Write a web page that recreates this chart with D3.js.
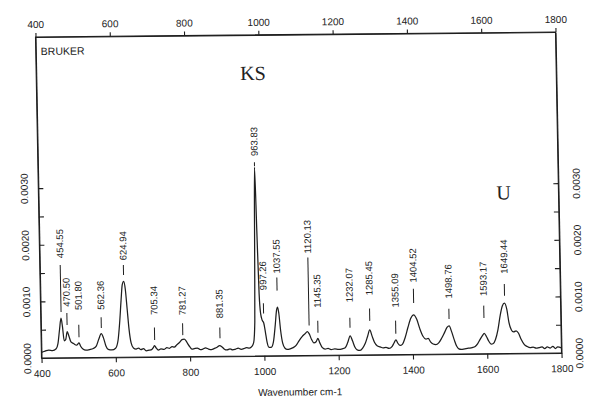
<!DOCTYPE html>
<html>
<head>
<meta charset="utf-8">
<script src="https://cdn.jsdelivr.net/npm/d3@7"></script>
<style>
  html, body { margin: 0; padding: 0; background: #fff; }
  svg { display: block; }
  text { font-family: "Liberation Sans", Arial, sans-serif; fill: #222; }
</style>
</head>
<body>
<svg id="chart" width="589" height="402"></svg>
<script>
// ---------- data ----------
const wavenumber = [400,410,420,430,440,445,450,454.5,458,462,466,470.5,475,480,487,495,501.8,506,512,520,530,540,548,555,562,568,574,580,590,600,607,612,617,621,625,629,633,637,642,648,655,662,668,675,682,690,697,702,705,709,715,722,730,738,745,752,758,765,772,779,785,790,795,800,806,812,820,828,835,842,850,858,866,873,880,886,892,900,908,915,922,930,938,945,952,960,967,972,976,979,983,986,989,992,996,1000,1004,1008,1013,1019,1025,1031,1035,1038,1041,1045,1050,1056,1062,1070,1078,1086,1094,1102,1110,1117,1122,1128,1134,1140,1145,1150,1156,1164,1172,1180,1190,1200,1210,1218,1225,1232,1238,1244,1250,1258,1265,1272,1279,1285,1291,1297,1304,1312,1320,1328,1336,1344,1350,1355,1360,1366,1372,1380,1388,1396,1404,1412,1420,1428,1436,1442,1448,1455,1462,1470,1478,1486,1493,1499,1505,1512,1518,1524,1530,1540,1550,1560,1568,1575,1582,1588,1593,1599,1605,1611,1617,1623,1630,1637,1643,1649,1655,1660,1666,1672,1679,1685,1692,1700,1708,1716,1724,1732,1740,1748,1755,1762,1770,1777,1784,1790,1800];
const absorbance = [0.00010,0.00012,0.00014,0.00013,0.00016,0.00025,0.00050,0.00070,0.00055,0.00030,0.00032,0.00046,0.00038,0.00028,0.00025,0.00022,0.00026,0.00020,0.00015,0.00013,0.00014,0.00016,0.00020,0.00032,0.00042,0.00034,0.00020,0.00014,0.00013,0.00016,0.00030,0.00060,0.00100,0.00128,0.00134,0.00120,0.00085,0.00050,0.00025,0.00016,0.00014,0.00016,0.00013,0.00015,0.00011,0.00012,0.00013,0.00017,0.00020,0.00016,0.00012,0.00014,0.00013,0.00016,0.00015,0.00018,0.00017,0.00021,0.00025,0.00030,0.00031,0.00028,0.00022,0.00017,0.00013,0.00014,0.00015,0.00012,0.00013,0.00015,0.00013,0.00012,0.00014,0.00016,0.00019,0.00017,0.00013,0.00011,0.00013,0.00011,0.00012,0.00014,0.00012,0.00013,0.00015,0.00014,0.00017,0.00024,0.00060,0.00180,0.00333,0.00220,0.00110,0.00075,0.00063,0.00058,0.00042,0.00024,0.00015,0.00015,0.00024,0.00055,0.00080,0.00086,0.00075,0.00045,0.00022,0.00013,0.00011,0.00012,0.00014,0.00018,0.00026,0.00033,0.00038,0.00042,0.00038,0.00028,0.00022,0.00024,0.00030,0.00022,0.00014,0.00011,0.00012,0.00010,0.00011,0.00010,0.00011,0.00013,0.00022,0.00034,0.00025,0.00014,0.00009,0.00008,0.00012,0.00020,0.00033,0.00044,0.00033,0.00022,0.00016,0.00014,0.00012,0.00013,0.00011,0.00014,0.00021,0.00026,0.00020,0.00016,0.00018,0.00030,0.00048,0.00064,0.00070,0.00062,0.00045,0.00032,0.00027,0.00028,0.00022,0.00018,0.00017,0.00020,0.00028,0.00038,0.00047,0.00050,0.00040,0.00025,0.00014,0.00009,0.00008,0.00009,0.00010,0.00011,0.00013,0.00018,0.00026,0.00032,0.00036,0.00030,0.00022,0.00017,0.00018,0.00025,0.00042,0.00068,0.00084,0.00089,0.00078,0.00055,0.00042,0.00038,0.00040,0.00036,0.00025,0.00016,0.00012,0.00010,0.00011,0.00009,0.00010,0.00011,0.00008,0.00011,0.00009,0.00012,0.00008,0.00011,0.00009];

const peakLabels = ["454.55","470.50","501.80","562.36","624.94","705.34","781.27","881.35","963.83","997.26","1037.55","1120.13","1145.35","1232.07","1285.45","1355.09","1404.52","1498.76","1593.17","1649.44"];
// where each label sits along the x axis
const labelPosition = [455,470.5,502,562.5,625,705.5,781.5,881.5,983,1000,1037.5,1122,1145.5,1232,1285.5,1355,1404.5,1499,1593,1649.5];
const labelLevel = [0.00176,0.00090,0.00084,0.00084,0.00171,0.00074,0.00073,0.00067,0.00353,0.00116,0.00145,0.00180,0.00084,0.00093,0.00105,0.00083,0.00127,0.00098,0.00102,0.00141];
const tickTop    = [0.00164,0.00079,0.00058,0.00071,0.00163,0.00052,0.00059,0.00051,0.00342,0.00093,0.00138,0.00173,0.00061,0.00066,0.00082,0.00060,0.00116,0.00080,0.00085,0.00123];
const tickBottom = [0.00081,0.00058,0.00036,0.00052,0.00145,0.00030,0.00038,0.00032,0.00335,0.00075,0.00115,0.00053,0.00040,0.00048,0.00060,0.00037,0.00091,0.00062,0.00063,0.00102];

const xTickValues = [400,600,800,1000,1200,1400,1600,1800];
const yTickValues = [0,0.0005,0.0010,0.0015,0.0020,0.0025,0.0030];
const yTickLabels = ["0.0000","","0.0010","","0.0020","","0.0030"];
const xDomain = [400,1800];
const yDomain = [0,0.00567];

// ---------- layout ----------
const W = 520, H = 321;
const svg = d3.select("#chart");
// slight skew of the scanned page
const g = svg.append("g").attr("transform","matrix(1,-0.0096,0.0187,1,35.5,37)");

const x = d3.scaleLinear().domain(xDomain).range([0, W]);
const y = d3.scaleLinear().domain(yDomain).range([H, 0]);

const ink = "#1e1e1e";

// frame
g.append("rect").attr("x",0).attr("y",0).attr("width",W).attr("height",H)
  .attr("fill","none").attr("stroke",ink).attr("stroke-width",1.1);

// axes
const fmtX = d3.format("d");
const axTop = g.append("g").call(d3.axisTop(x).tickValues(xTickValues).tickSize(4).tickSizeOuter(0).tickFormat(fmtX));
const axBot = g.append("g").attr("transform",`translate(0,${H})`)
  .call(d3.axisBottom(x).tickValues(xTickValues).tickSize(5).tickSizeOuter(0).tickFormat(fmtX));
const axLeft = g.append("g").call(d3.axisLeft(y).tickValues(yTickValues).tickSize(-5).tickSizeOuter(0).tickFormat((d,i)=>yTickLabels[i]));
const axRight = g.append("g").attr("transform",`translate(${W},0)`)
  .call(d3.axisRight(y).tickValues(yTickValues).tickSize(-5).tickSizeOuter(0).tickFormat((d,i)=>yTickLabels[i]));

[axTop,axBot,axLeft,axRight].forEach(a=>{
  a.select(".domain").attr("stroke",ink).attr("stroke-width",1.1);
  a.selectAll(".tick line").attr("stroke",ink).attr("stroke-width",1.1);
  a.selectAll(".tick text").attr("fill","#222").style("font-size","10px")
   .style("font-family","'Liberation Sans', Arial, sans-serif");
});
axTop.selectAll(".tick text").attr("y",-9);
axBot.selectAll(".tick text").attr("y",12);
axLeft.selectAll(".tick text").attr("transform","rotate(-90)").attr("x",0).attr("y",-14)
  .attr("dy","0.35em").attr("text-anchor","middle");
axRight.selectAll(".tick text").attr("transform","rotate(-90)").attr("x",0).attr("y",18)
  .attr("dy","0.35em").attr("text-anchor","middle");

// spectrum
const pts = wavenumber.map((w,i)=>[w, absorbance[i]]);
g.append("path").datum(pts)
  .attr("fill","none").attr("stroke",ink).attr("stroke-width",1.25).attr("stroke-linejoin","round")
  .attr("d", d3.line().x(d=>x(d[0])).y(d=>y(d[1])).curve(d3.curveMonotoneX));

// peak labels
const peaks = g.append("g");
peakLabels.forEach((lab,i)=>{
  const px = x(labelPosition[i]);
  peaks.append("line").attr("x1",px).attr("x2",px)
    .attr("y1",y(tickBottom[i])).attr("y2",y(tickTop[i]))
    .attr("stroke",ink).attr("stroke-width",1);
  peaks.append("text").attr("transform",`translate(${px},${y(labelLevel[i])}) rotate(-90)`)
    .attr("dy","0.35em").attr("text-anchor","start").style("font-size","9.5px").text(lab);
});

// annotations
g.append("text").attr("x",5).attr("y",18).style("font-size","10.5px").text("BRUKER");
g.append("text").attr("x",204).attr("y",45).style("font-family","'Liberation Serif','Times New Roman',serif")
  .style("font-size","20px").text("KS");
g.append("text").attr("x",458).attr("y",167).style("font-family","'Liberation Serif','Times New Roman',serif")
  .style("font-size","20px").text("U");
g.append("text").attr("x",258).attr("y",H+40).attr("text-anchor","middle").style("font-size","10px")
  .text("Wavenumber cm-1");
</script>
</body>
</html>
